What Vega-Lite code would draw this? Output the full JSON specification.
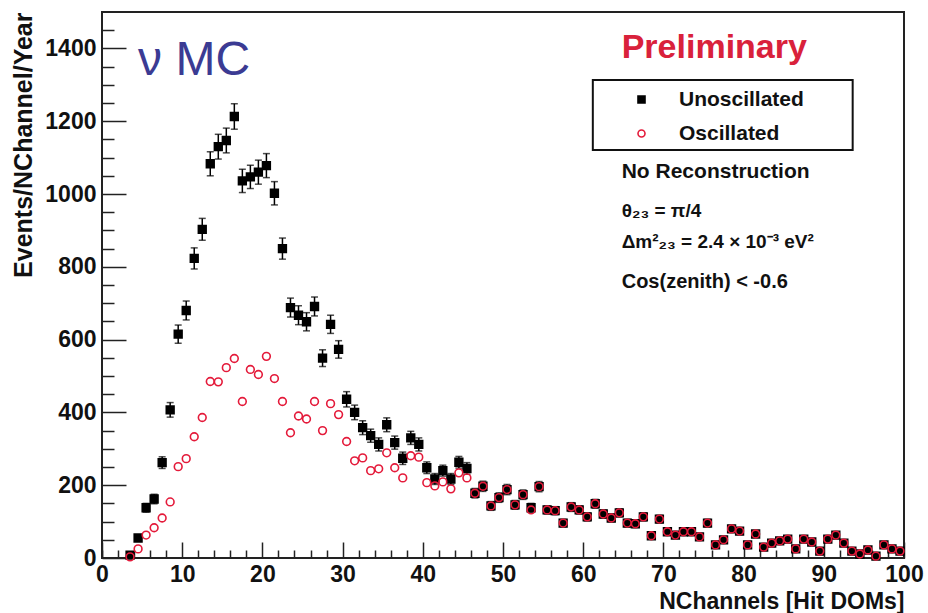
{
  "$schema": "https://vega.github.io/schema/vega-lite/v6.json",
  "width": 802,
  "height": 546,
  "autosize": {"type": "none"},
  "padding": {"left": 102, "top": 12, "right": 24, "bottom": 55},
  "background": "white",
  "config": {
    "view": {"stroke": "#222", "strokeWidth": 2},
    "font": "Liberation Sans"
  },
  "datasets": {
    "hist": [
      {"n":3.5,"s":"Unoscillated","v":8,"e":3},{"n":4.5,"s":"Unoscillated","v":55,"e":7},{"n":5.5,"s":"Unoscillated","v":138,"e":12},{"n":6.5,"s":"Unoscillated","v":162,"e":13},{"n":7.5,"s":"Unoscillated","v":262,"e":16},{"n":8.5,"s":"Unoscillated","v":407,"e":20},{"n":9.5,"s":"Unoscillated","v":615,"e":25},{"n":10.5,"s":"Unoscillated","v":680,"e":26},{"n":11.5,"s":"Unoscillated","v":823,"e":29},{"n":12.5,"s":"Unoscillated","v":903,"e":30},{"n":13.5,"s":"Unoscillated","v":1083,"e":33},{"n":14.5,"s":"Unoscillated","v":1130,"e":34},{"n":15.5,"s":"Unoscillated","v":1147,"e":34},{"n":16.5,"s":"Unoscillated","v":1213,"e":35},{"n":17.5,"s":"Unoscillated","v":1036,"e":32},{"n":18.5,"s":"Unoscillated","v":1047,"e":32},{"n":19.5,"s":"Unoscillated","v":1060,"e":33},{"n":20.5,"s":"Unoscillated","v":1078,"e":33},{"n":21.5,"s":"Unoscillated","v":1002,"e":32},{"n":22.5,"s":"Unoscillated","v":850,"e":29},{"n":23.5,"s":"Unoscillated","v":688,"e":26},{"n":24.5,"s":"Unoscillated","v":667,"e":26},{"n":25.5,"s":"Unoscillated","v":649,"e":25},{"n":26.5,"s":"Unoscillated","v":691,"e":26},{"n":27.5,"s":"Unoscillated","v":549,"e":23},{"n":28.5,"s":"Unoscillated","v":642,"e":25},{"n":29.5,"s":"Unoscillated","v":573,"e":24},{"n":30.5,"s":"Unoscillated","v":436,"e":21},{"n":31.5,"s":"Unoscillated","v":400,"e":20},{"n":32.5,"s":"Unoscillated","v":358,"e":19},{"n":33.5,"s":"Unoscillated","v":336,"e":18},{"n":34.5,"s":"Unoscillated","v":312,"e":18},{"n":35.5,"s":"Unoscillated","v":366,"e":19},{"n":36.5,"s":"Unoscillated","v":317,"e":18},{"n":37.5,"s":"Unoscillated","v":274,"e":17},{"n":38.5,"s":"Unoscillated","v":330,"e":18},{"n":39.5,"s":"Unoscillated","v":312,"e":18},{"n":40.5,"s":"Unoscillated","v":248,"e":16},{"n":41.5,"s":"Unoscillated","v":217,"e":15},{"n":42.5,"s":"Unoscillated","v":240,"e":15},{"n":43.5,"s":"Unoscillated","v":217,"e":15},{"n":44.5,"s":"Unoscillated","v":263,"e":16},{"n":45.5,"s":"Unoscillated","v":246,"e":16},{"n":46.5,"s":"Unoscillated","v":178,"e":13},{"n":47.5,"s":"Unoscillated","v":197,"e":14},{"n":48.5,"s":"Unoscillated","v":143,"e":12},{"n":49.5,"s":"Unoscillated","v":166,"e":13},{"n":50.5,"s":"Unoscillated","v":188,"e":14},{"n":51.5,"s":"Unoscillated","v":146,"e":12},{"n":52.5,"s":"Unoscillated","v":174,"e":13},{"n":53.5,"s":"Unoscillated","v":138,"e":12},{"n":54.5,"s":"Unoscillated","v":196,"e":14},{"n":55.5,"s":"Unoscillated","v":132,"e":11},{"n":56.5,"s":"Unoscillated","v":130,"e":11},{"n":57.5,"s":"Unoscillated","v":96,"e":10},{"n":58.5,"s":"Unoscillated","v":140,"e":12},{"n":59.5,"s":"Unoscillated","v":132,"e":11},{"n":60.5,"s":"Unoscillated","v":113,"e":11},{"n":61.5,"s":"Unoscillated","v":149,"e":12},{"n":62.5,"s":"Unoscillated","v":121,"e":11},{"n":63.5,"s":"Unoscillated","v":110,"e":10},{"n":64.5,"s":"Unoscillated","v":124,"e":11},{"n":65.5,"s":"Unoscillated","v":96,"e":10},{"n":66.5,"s":"Unoscillated","v":94,"e":10},{"n":67.5,"s":"Unoscillated","v":113,"e":11},{"n":68.5,"s":"Unoscillated","v":61,"e":8},{"n":69.5,"s":"Unoscillated","v":107,"e":10},{"n":70.5,"s":"Unoscillated","v":72,"e":8},{"n":71.5,"s":"Unoscillated","v":63,"e":8},{"n":72.5,"s":"Unoscillated","v":72,"e":8},{"n":73.5,"s":"Unoscillated","v":72,"e":8},{"n":74.5,"s":"Unoscillated","v":58,"e":8},{"n":75.5,"s":"Unoscillated","v":96,"e":10},{"n":76.5,"s":"Unoscillated","v":36,"e":6},{"n":77.5,"s":"Unoscillated","v":50,"e":7},{"n":78.5,"s":"Unoscillated","v":80,"e":9},{"n":79.5,"s":"Unoscillated","v":74,"e":9},{"n":80.5,"s":"Unoscillated","v":36,"e":6},{"n":81.5,"s":"Unoscillated","v":66,"e":8},{"n":82.5,"s":"Unoscillated","v":30,"e":5},{"n":83.5,"s":"Unoscillated","v":41,"e":6},{"n":84.5,"s":"Unoscillated","v":47,"e":7},{"n":85.5,"s":"Unoscillated","v":52,"e":7},{"n":86.5,"s":"Unoscillated","v":25,"e":5},{"n":87.5,"s":"Unoscillated","v":52,"e":7},{"n":88.5,"s":"Unoscillated","v":44,"e":7},{"n":89.5,"s":"Unoscillated","v":19,"e":4},{"n":90.5,"s":"Unoscillated","v":52,"e":7},{"n":91.5,"s":"Unoscillated","v":63,"e":8},{"n":92.5,"s":"Unoscillated","v":41,"e":6},{"n":93.5,"s":"Unoscillated","v":19,"e":4},{"n":94.5,"s":"Unoscillated","v":11,"e":3},{"n":95.5,"s":"Unoscillated","v":22,"e":5},{"n":96.5,"s":"Unoscillated","v":5,"e":2},{"n":97.5,"s":"Unoscillated","v":36,"e":6},{"n":98.5,"s":"Unoscillated","v":25,"e":5},{"n":99.5,"s":"Unoscillated","v":19,"e":4},
      {"n":3.5,"s":"Oscillated","v":3},{"n":4.5,"s":"Oscillated","v":25},{"n":5.5,"s":"Oscillated","v":63},{"n":6.5,"s":"Oscillated","v":83},{"n":7.5,"s":"Oscillated","v":110},{"n":8.5,"s":"Oscillated","v":154},{"n":9.5,"s":"Oscillated","v":251},{"n":10.5,"s":"Oscillated","v":273},{"n":11.5,"s":"Oscillated","v":333},{"n":12.5,"s":"Oscillated","v":386},{"n":13.5,"s":"Oscillated","v":485},{"n":14.5,"s":"Oscillated","v":484},{"n":15.5,"s":"Oscillated","v":523},{"n":16.5,"s":"Oscillated","v":548},{"n":17.5,"s":"Oscillated","v":430},{"n":18.5,"s":"Oscillated","v":518},{"n":19.5,"s":"Oscillated","v":504},{"n":20.5,"s":"Oscillated","v":554},{"n":21.5,"s":"Oscillated","v":493},{"n":22.5,"s":"Oscillated","v":430},{"n":23.5,"s":"Oscillated","v":344},{"n":24.5,"s":"Oscillated","v":390},{"n":25.5,"s":"Oscillated","v":382},{"n":26.5,"s":"Oscillated","v":430},{"n":27.5,"s":"Oscillated","v":350},{"n":28.5,"s":"Oscillated","v":424},{"n":29.5,"s":"Oscillated","v":394},{"n":30.5,"s":"Oscillated","v":320},{"n":31.5,"s":"Oscillated","v":267},{"n":32.5,"s":"Oscillated","v":275},{"n":33.5,"s":"Oscillated","v":240},{"n":34.5,"s":"Oscillated","v":245},{"n":35.5,"s":"Oscillated","v":289},{"n":36.5,"s":"Oscillated","v":248},{"n":37.5,"s":"Oscillated","v":220},{"n":38.5,"s":"Oscillated","v":281},{"n":39.5,"s":"Oscillated","v":277},{"n":40.5,"s":"Oscillated","v":207},{"n":41.5,"s":"Oscillated","v":198},{"n":42.5,"s":"Oscillated","v":209},{"n":43.5,"s":"Oscillated","v":190},{"n":44.5,"s":"Oscillated","v":234},{"n":45.5,"s":"Oscillated","v":220},{"n":46.5,"s":"Oscillated","v":178},{"n":47.5,"s":"Oscillated","v":197},{"n":48.5,"s":"Oscillated","v":143},{"n":49.5,"s":"Oscillated","v":166},{"n":50.5,"s":"Oscillated","v":188},{"n":51.5,"s":"Oscillated","v":146},{"n":52.5,"s":"Oscillated","v":174},{"n":53.5,"s":"Oscillated","v":132},{"n":54.5,"s":"Oscillated","v":196},{"n":55.5,"s":"Oscillated","v":132},{"n":56.5,"s":"Oscillated","v":130},{"n":57.5,"s":"Oscillated","v":96},{"n":58.5,"s":"Oscillated","v":140},{"n":59.5,"s":"Oscillated","v":132},{"n":60.5,"s":"Oscillated","v":113},{"n":61.5,"s":"Oscillated","v":149},{"n":62.5,"s":"Oscillated","v":121},{"n":63.5,"s":"Oscillated","v":110},{"n":64.5,"s":"Oscillated","v":124},{"n":65.5,"s":"Oscillated","v":96},{"n":66.5,"s":"Oscillated","v":94},{"n":67.5,"s":"Oscillated","v":113},{"n":68.5,"s":"Oscillated","v":61},{"n":69.5,"s":"Oscillated","v":107},{"n":70.5,"s":"Oscillated","v":72},{"n":71.5,"s":"Oscillated","v":63},{"n":72.5,"s":"Oscillated","v":72},{"n":73.5,"s":"Oscillated","v":72},{"n":74.5,"s":"Oscillated","v":58},{"n":75.5,"s":"Oscillated","v":96},{"n":76.5,"s":"Oscillated","v":36},{"n":77.5,"s":"Oscillated","v":50},{"n":78.5,"s":"Oscillated","v":80},{"n":79.5,"s":"Oscillated","v":74},{"n":80.5,"s":"Oscillated","v":36},{"n":81.5,"s":"Oscillated","v":66},{"n":82.5,"s":"Oscillated","v":30},{"n":83.5,"s":"Oscillated","v":41},{"n":84.5,"s":"Oscillated","v":47},{"n":85.5,"s":"Oscillated","v":52},{"n":86.5,"s":"Oscillated","v":25},{"n":87.5,"s":"Oscillated","v":52},{"n":88.5,"s":"Oscillated","v":44},{"n":89.5,"s":"Oscillated","v":19},{"n":90.5,"s":"Oscillated","v":52},{"n":91.5,"s":"Oscillated","v":63},{"n":92.5,"s":"Oscillated","v":41},{"n":93.5,"s":"Oscillated","v":19},{"n":94.5,"s":"Oscillated","v":11},{"n":95.5,"s":"Oscillated","v":22},{"n":96.5,"s":"Oscillated","v":5},{"n":97.5,"s":"Oscillated","v":36},{"n":98.5,"s":"Oscillated","v":25},{"n":99.5,"s":"Oscillated","v":19}
    ]
  },
  "resolve": {"axis": {"x": "independent", "y": "independent"}},
  "layer": [
    {
      "data": {"name": "hist"},
      "transform": [{"filter": "datum.s == 'Unoscillated'"}],
      "mark": {"type": "errorbar", "color": "#000", "thickness": 1.5, "ticks": {"size": 7, "thickness": 1.5}},
      "encoding": {
        "x": {"field": "n", "type": "quantitative", "scale": {"domain": [0, 100], "nice": false},
          "axis": {"orient": "bottom", "values": [0,10,20,30,40,50,60,70,80,90,100], "format": "d", "ticks": false, "domain": false, "grid": false, "labelFont": "Liberation Sans", "labelFontSize": 23, "labelFontWeight": "bold", "labelColor": "#111", "labelPadding": 5, "labelFlush": false, "title": "NChannels [Hit DOMs]", "titleAnchor": "end", "titleFont": "Liberation Sans", "titleFontSize": 23, "titleFontWeight": "bold", "titleColor": "#111", "titlePadding": 4}},
        "y": {"field": "v", "type": "quantitative", "scale": {"domain": [0, 1500], "nice": false},
          "axis": {"orient": "left", "values": [0,200,400,600,800,1000,1200,1400], "format": "d", "ticks": false, "domain": false, "grid": false, "labelFont": "Liberation Sans", "labelFontSize": 23, "labelFontWeight": "bold", "labelColor": "#111", "labelPadding": 6, "labelFlush": false, "title": "Events/NChannel/Year", "titleAnchor": "end", "titleFont": "Liberation Sans", "titleFontSize": 25, "titleFontWeight": "bold", "titleColor": "#111", "titlePadding": 8}},
        "yError": {"field": "e"}
      }
    },
    {
      "data": {"name": "hist"},
      "mark": {"type": "point", "strokeWidth": 1.6, "opacity": 1},
      "encoding": {
        "x": {"field": "n", "type": "quantitative", "scale": {"domain": [0, 100], "nice": false},
          "axis": {"orient": "bottom", "values": [0,10,20,30,40,50,60,70,80,90,100], "labels": false, "domain": false, "grid": false, "ticks": true, "tickSize": -16, "tickWidth": 1.5, "tickColor": "#222", "title": null}},
        "y": {"field": "v", "type": "quantitative", "scale": {"domain": [0, 1500], "nice": false},
          "axis": {"orient": "left", "values": [0,200,400,600,800,1000,1200,1400], "labels": false, "domain": false, "grid": false, "ticks": true, "tickSize": -24, "tickWidth": 1.5, "tickColor": "#222", "title": null}},
        "fill": {"field": "s", "type": "nominal", "scale": {"domain": ["Unoscillated", "Oscillated"], "range": ["#000000", "transparent"]},
          "legend": {"title": null, "orient": "none", "legendX": 529, "legendY": 77, "padding": 0, "labelFont": "Liberation Sans", "labelFontSize": 21, "labelFontWeight": "bold", "labelColor": "#111", "labelOffset": 27, "rowPadding": 12, "symbolSize": 49, "symbolStrokeWidth": 1.6}},
        "stroke": {"field": "s", "type": "nominal", "scale": {"domain": ["Unoscillated", "Oscillated"], "range": ["#000000", "#e41a3a"]},
          "legend": {"title": null, "orient": "none", "legendX": 529, "legendY": 77, "padding": 0, "labelFont": "Liberation Sans", "labelFontSize": 21, "labelFontWeight": "bold", "labelColor": "#111", "labelOffset": 27, "rowPadding": 12, "symbolSize": 49, "symbolStrokeWidth": 1.6}},
        "shape": {"field": "s", "type": "nominal", "scale": {"domain": ["Unoscillated", "Oscillated"], "range": ["square", "circle"]},
          "legend": {"title": null, "orient": "none", "legendX": 529, "legendY": 77, "padding": 0, "labelFont": "Liberation Sans", "labelFontSize": 21, "labelFontWeight": "bold", "labelColor": "#111", "labelOffset": 27, "rowPadding": 12, "symbolSize": 49, "symbolStrokeWidth": 1.6}},
        "size": {"value": 60}
      }
    },
    {
      "data": {"values": [{}]},
      "mark": {"type": "rect", "filled": false, "stroke": "#111", "strokeWidth": 2},
      "encoding": {
        "x": {"datum": 61.2, "type": "quantitative", "scale": {"domain": [0, 100], "nice": false},
          "axis": {"orient": "bottom", "values": [0,2,4,6,8,12,14,16,18,22,24,26,28,32,34,36,38,42,44,46,48,52,54,56,58,62,64,66,68,72,74,76,78,82,84,86,88,92,94,96,98], "labels": false, "domain": false, "grid": false, "ticks": true, "tickSize": -8, "tickWidth": 1.5, "tickColor": "#222", "title": null}},
        "x2": {"datum": 93.6},
        "y": {"datum": 1313, "type": "quantitative", "scale": {"domain": [0, 1500], "nice": false},
          "axis": {"orient": "left", "values": [50,100,150,250,300,350,450,500,550,650,700,750,850,900,950,1050,1100,1150,1250,1300,1350,1450], "labels": false, "domain": false, "grid": false, "ticks": true, "tickSize": -12, "tickWidth": 1.5, "tickColor": "#222", "title": null}},
        "y2": {"datum": 1121}
      }
    },
    {
      "data": {"values": [{"t": "ν MC"}]},
      "mark": {"type": "text", "align": "left", "baseline": "alphabetic", "font": "Liberation Sans", "fontSize": 48, "color": "#3b3b93"},
      "encoding": {
        "x": {"datum": 4.5, "type": "quantitative", "axis": null},
        "y": {"datum": 1327, "type": "quantitative", "axis": null},
        "text": {"field": "t"}
      }
    },
    {
      "data": {"values": [{"t": "Preliminary"}]},
      "mark": {"type": "text", "align": "left", "baseline": "alphabetic", "font": "Liberation Sans", "fontSize": 34, "fontWeight": "bold", "color": "#d9213b"},
      "encoding": {
        "x": {"datum": 64.8, "type": "quantitative", "axis": null},
        "y": {"datum": 1374, "type": "quantitative", "axis": null},
        "text": {"field": "t"}
      }
    },
    {
      "data": {"values": [{"t": "No Reconstruction"}]},
      "mark": {"type": "text", "align": "left", "baseline": "alphabetic", "font": "Liberation Sans", "fontSize": 21, "fontWeight": "bold", "color": "#111"},
      "encoding": {
        "x": {"datum": 64.8, "type": "quantitative", "axis": null},
        "y": {"datum": 1044, "type": "quantitative", "axis": null},
        "text": {"field": "t"}
      }
    },
    {
      "data": {"values": [{"t": "θ₂₃ = π/4"}]},
      "mark": {"type": "text", "align": "left", "baseline": "alphabetic", "font": "Liberation Sans", "fontSize": 19, "fontWeight": "bold", "color": "#111"},
      "encoding": {
        "x": {"datum": 64.8, "type": "quantitative", "axis": null},
        "y": {"datum": 937, "type": "quantitative", "axis": null},
        "text": {"field": "t"}
      }
    },
    {
      "data": {"values": [{"t": "Δm²₂₃ = 2.4 × 10⁻³ eV²"}]},
      "mark": {"type": "text", "align": "left", "baseline": "alphabetic", "font": "Liberation Sans", "fontSize": 19, "fontWeight": "bold", "color": "#111"},
      "encoding": {
        "x": {"datum": 64.8, "type": "quantitative", "axis": null},
        "y": {"datum": 852, "type": "quantitative", "axis": null},
        "text": {"field": "t"}
      }
    },
    {
      "data": {"values": [{"t": "Cos(zenith) < -0.6"}]},
      "mark": {"type": "text", "align": "left", "baseline": "alphabetic", "font": "Liberation Sans", "fontSize": 20, "fontWeight": "bold", "color": "#111"},
      "encoding": {
        "x": {"datum": 64.8, "type": "quantitative", "axis": null},
        "y": {"datum": 742, "type": "quantitative", "axis": null},
        "text": {"field": "t"}
      }
    }
  ]
}
